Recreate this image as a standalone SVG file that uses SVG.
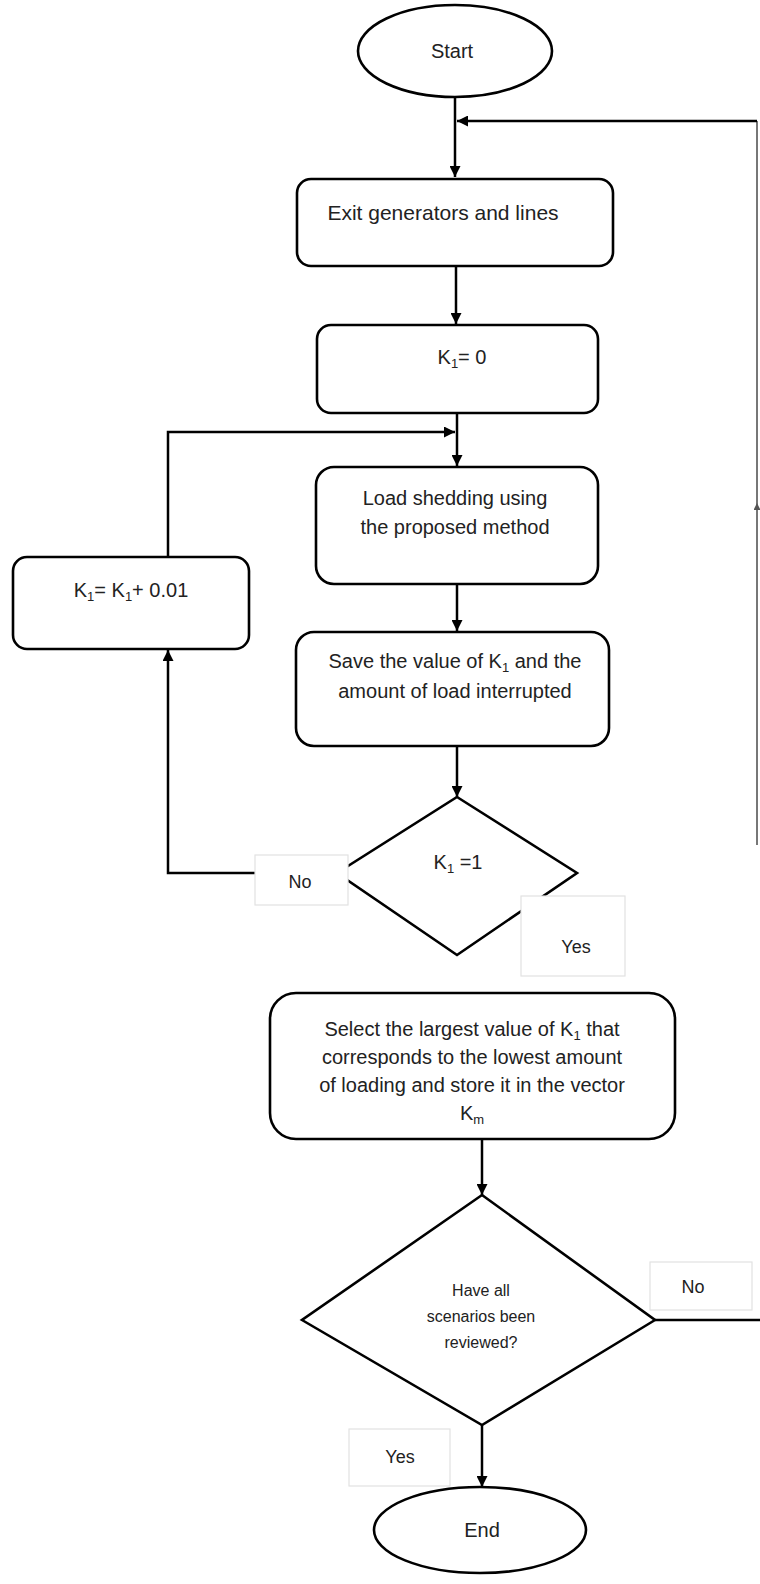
<svg xmlns="http://www.w3.org/2000/svg" width="760" height="1584" viewBox="0 0 760 1584">
<defs>
<marker id="ah" viewBox="0 0 10 10" refX="10" refY="5" markerWidth="11" markerHeight="11" markerUnits="userSpaceOnUse" orient="auto-start-reverse">
<path d="M0,0 L10,5 L0,10 z" fill="#000"/>
</marker>
<marker id="ahs" viewBox="0 0 10 10" refX="10" refY="5" markerWidth="7" markerHeight="7" markerUnits="userSpaceOnUse" orient="auto">
<path d="M0,0 L10,5 L0,10 z" fill="#555"/>
</marker>
<style>
.shape{fill:#fff;stroke:#000;stroke-width:2.6}
.lbl{fill:#fff;stroke:#e2e2e2;stroke-width:1.2}
.t{font-family:"Liberation Sans",Arial,sans-serif;font-size:20px;fill:#222;text-anchor:middle}
.ts{font-size:16px}
.tl{font-size:18px}
.sub{font-size:13px}
.c{fill:none;stroke:#000;stroke-width:2.5}
.g{fill:none;stroke:#777;stroke-width:2}
</style>
</defs>
<rect width="760" height="1584" fill="#fff"/>

<g id="connectors">
<path class="c" d="M455,97 V177" marker-end="url(#ah)"/>
<path class="g" d="M757,845 V121"/>
<path class="g" d="M757,540 V503" marker-end="url(#ahs)"/>
<path class="c" d="M757,121 H457" marker-end="url(#ah)"/>
<path class="c" d="M456,266 V324" marker-end="url(#ah)"/>
<path class="c" d="M457,413 V466" marker-end="url(#ah)"/>
<path class="c" d="M168,557 V432 H455" marker-end="url(#ah)"/>
<path class="c" d="M457,584 V631" marker-end="url(#ah)"/>
<path class="c" d="M457,746 V797" marker-end="url(#ah)"/>
<path class="c" d="M337,873 H168 V650" marker-end="url(#ah)"/>
<path class="c" d="M482,1139 V1195" marker-end="url(#ah)"/>
<path class="c" d="M655,1320 H760"/>
<path class="c" d="M482,1425 V1487" marker-end="url(#ah)"/>
</g>

<g id="start">
<ellipse class="shape" cx="455" cy="51" rx="97" ry="46"/>
<text class="t" x="452" y="58">Start</text>
</g>

<g id="exit">
<rect class="shape" x="297" y="179" width="316" height="87" rx="14"/>
<text class="t" x="443" y="220" style="font-size:21px">Exit generators and lines</text>
</g>

<g id="k1zero">
<rect class="shape" x="317" y="325" width="281" height="88" rx="14"/>
<text class="t" x="462" y="364">K<tspan class="sub" dy="4">1</tspan><tspan dy="-4">= 0</tspan></text>
</g>

<g id="loadshed">
<rect class="shape" x="316" y="467" width="282" height="117" rx="18"/>
<text class="t" x="455" y="505">Load shedding using</text>
<text class="t" x="455" y="534">the proposed method</text>
</g>

<g id="increment">
<rect class="shape" x="13" y="557" width="236" height="92" rx="14"/>
<text class="t" x="131" y="597">K<tspan class="sub" dy="4">1</tspan><tspan dy="-4">= K</tspan><tspan class="sub" dy="4">1</tspan><tspan dy="-4">+ 0.01</tspan></text>
</g>

<g id="save">
<rect class="shape" x="296" y="632" width="313" height="114" rx="18"/>
<text class="t" x="455" y="668">Save the value of K<tspan class="sub" dy="4">1</tspan><tspan dy="-4"> and the</tspan></text>
<text class="t" x="455" y="698">amount of load interrupted</text>
</g>

<g id="decision1">
<path class="shape" d="M457,797 L577,873 L457,955 L337,873 Z"/>
<text class="t" x="458" y="869">K<tspan class="sub" dy="4">1</tspan><tspan dy="-4"> =1</tspan></text>
</g>

<g id="label-no1">
<rect class="lbl" x="255" y="855" width="93" height="50"/>
<text class="t tl" x="300" y="888">No</text>
</g>

<g id="label-yes1">
<rect class="lbl" x="521" y="896" width="104" height="80"/>
<text class="t tl" x="576" y="953">Yes</text>
</g>

<g id="select">
<rect class="shape" x="270" y="993" width="405" height="146" rx="26"/>
<text class="t" x="472" y="1036">Select the largest value of K<tspan class="sub" dy="4">1</tspan><tspan dy="-4"> that</tspan></text>
<text class="t" x="472" y="1064">corresponds to the lowest amount</text>
<text class="t" x="472" y="1092">of loading and store it in the vector</text>
<text class="t" x="472" y="1120">K<tspan class="sub" dy="4">m</tspan></text>
</g>

<g id="decision2">
<path class="shape" d="M482,1195 L655,1320 L482,1425 L302,1320 Z"/>
<text class="t ts" x="481" y="1296">Have all</text>
<text class="t ts" x="481" y="1322">scenarios been</text>
<text class="t ts" x="481" y="1348">reviewed?</text>
</g>

<g id="label-no2">
<rect class="lbl" x="650" y="1262" width="102" height="48"/>
<text class="t tl" x="693" y="1293">No</text>
</g>

<g id="label-yes2">
<rect class="lbl" x="349" y="1429" width="101" height="57"/>
<text class="t tl" x="400" y="1463">Yes</text>
</g>

<g id="end">
<ellipse class="shape" cx="480" cy="1530" rx="106" ry="43"/>
<text class="t" x="482" y="1537">End</text>
</g>
</svg>
